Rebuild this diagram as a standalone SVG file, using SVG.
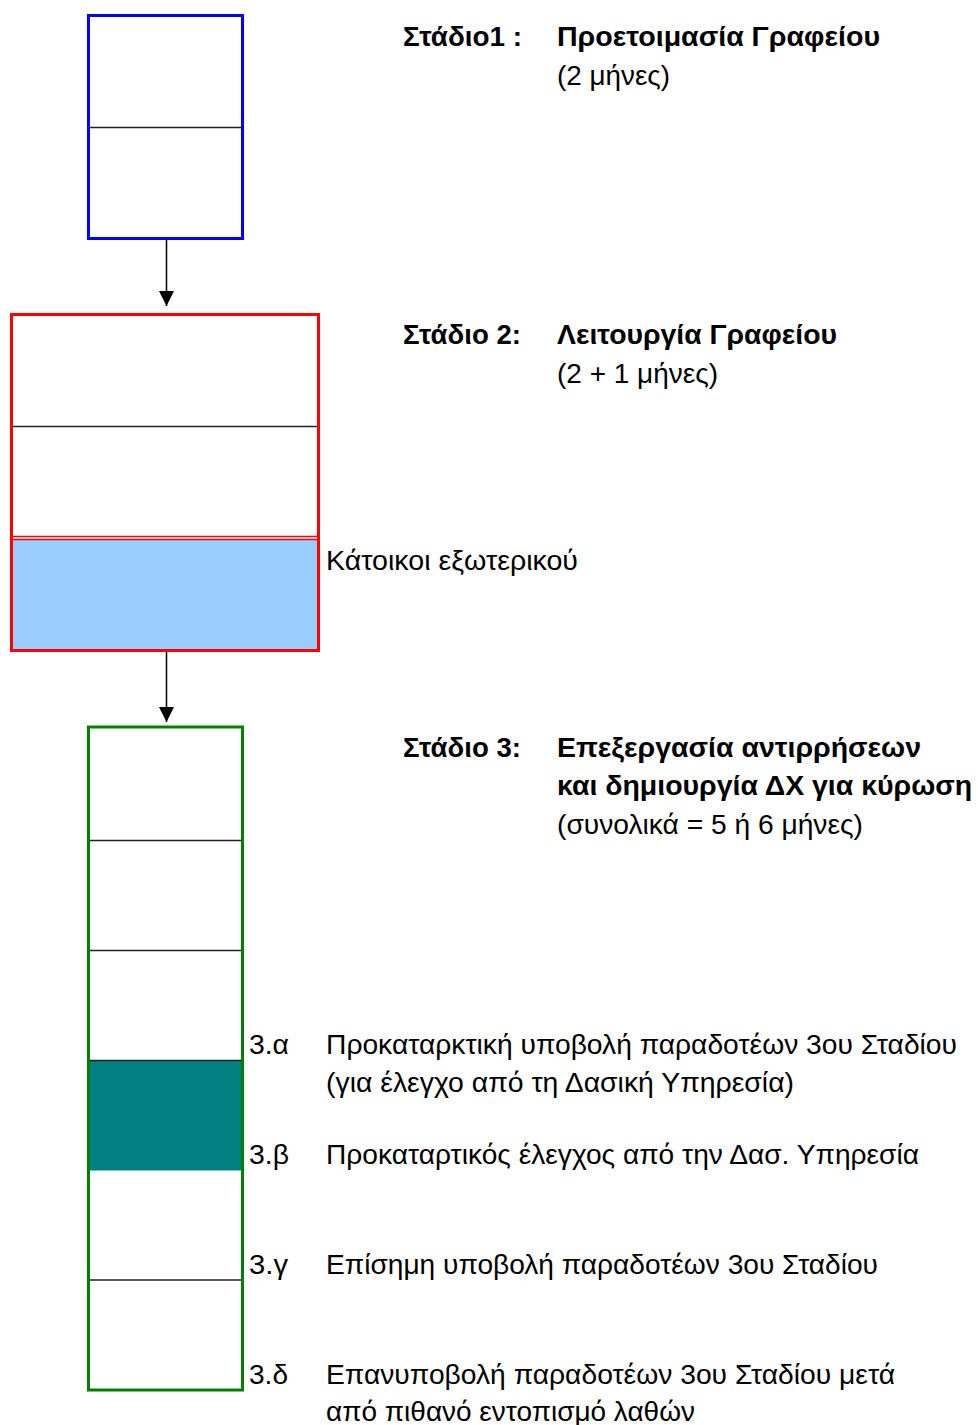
<svg xmlns="http://www.w3.org/2000/svg" width="978" height="1425" viewBox="0 0 978 1425">
  <style>
    text { font-family: "Liberation Sans", Arial, sans-serif; font-size: 28px; fill: #000; }
    .b { font-weight: bold; font-size: 27px; }
    .frame { fill: none; stroke-width: 3; }
    .div { stroke: #222; stroke-width: 1.5; }
    .conn { stroke: #000; stroke-width: 1.5; fill: none; }
  </style>
  <defs>
    <marker id="arrow" markerWidth="16" markerHeight="16" refX="15" refY="7.5" orient="auto" markerUnits="userSpaceOnUse">
      <path d="M0,0 L15,7.5 L0,15 Z" fill="#000"/>
    </marker>
  </defs>

  <!-- Stage 1 block -->
  <g id="stage1">
    <rect x="88.5" y="15.5" width="154" height="223" fill="#fff"/>
    <line class="div" x1="90" y1="127.5" x2="241" y2="127.5"/>
    <rect class="frame" x="88.5" y="15.5" width="154" height="223" stroke="#0000FF"/>
  </g>

  <!-- Stage 2 block -->
  <g id="stage2">
    <rect x="11.5" y="314.5" width="307" height="336" fill="#fff"/>
    <rect x="13" y="540" width="304" height="109" fill="#99CCFF"/>
    <line class="div" x1="13" y1="426.5" x2="317" y2="426.5"/>
    <line x1="13" y1="536.5" x2="317" y2="536.5" stroke="#FF0000" stroke-width="1.5"/>
    <line x1="13" y1="539.5" x2="317" y2="539.5" stroke="#FF0000" stroke-width="1.5"/>
    <rect class="frame" x="11.5" y="314.5" width="307" height="336" stroke="#FF0000"/>
  </g>

  <!-- Stage 3 block -->
  <g id="stage3">
    <rect x="88.5" y="727" width="154" height="663" fill="#fff"/>
    <rect x="90" y="1060.5" width="151" height="110" fill="#008080"/>
    <line class="div" x1="90" y1="840.5" x2="241" y2="840.5"/>
    <line class="div" x1="90" y1="950.5" x2="241" y2="950.5"/>
    <line class="div" x1="90" y1="1060.5" x2="241" y2="1060.5"/>
    <line class="div" x1="90" y1="1280" x2="241" y2="1280"/>
    <rect class="frame" x="88.5" y="727" width="154" height="663" stroke="#008000"/>
  </g>

  <!-- Connectors -->
  <g id="connectors">
    <line class="conn" x1="166.5" y1="240" x2="166.5" y2="306" marker-end="url(#arrow)"/>
    <line class="conn" x1="166.5" y1="652" x2="166.5" y2="722" marker-end="url(#arrow)"/>
  </g>

  <!-- Stage titles -->
  <g id="title1">
    <text class="b" x="403" y="46" textLength="119" lengthAdjust="spacingAndGlyphs">Στάδιο1 :</text>
    <text class="b" x="557" y="46" textLength="323" lengthAdjust="spacingAndGlyphs">Προετοιμασία Γραφείου</text>
    <text x="557" y="85" textLength="113" lengthAdjust="spacingAndGlyphs">(2 μήνες)</text>
  </g>
  <g id="title2">
    <text class="b" x="403" y="344" textLength="118" lengthAdjust="spacingAndGlyphs">Στάδιο 2:</text>
    <text class="b" x="557" y="344" textLength="280" lengthAdjust="spacingAndGlyphs">Λειτουργία Γραφείου</text>
    <text x="557" y="383" textLength="161" lengthAdjust="spacingAndGlyphs">(2 + 1 μήνες)</text>
  </g>
  <g id="label-abroad">
    <text x="326" y="570" textLength="252" lengthAdjust="spacingAndGlyphs">Κάτοικοι εξωτερικού</text>
  </g>
  <g id="title3">
    <text class="b" x="403" y="757" textLength="118" lengthAdjust="spacingAndGlyphs">Στάδιο 3:</text>
    <text class="b" x="557" y="757" textLength="364" lengthAdjust="spacingAndGlyphs">Επεξεργασία αντιρρήσεων</text>
    <text class="b" x="557" y="795" textLength="415" lengthAdjust="spacingAndGlyphs">και δημιουργία ΔΧ για κύρωση</text>
    <text x="557" y="834" textLength="306" lengthAdjust="spacingAndGlyphs">(συνολικά = 5 ή 6 μήνες)</text>
  </g>

  <!-- Stage 3 sub-steps -->
  <g id="step3a">
    <text x="249" y="1054" textLength="40" lengthAdjust="spacingAndGlyphs">3.α</text>
    <text x="326" y="1054" textLength="631" lengthAdjust="spacingAndGlyphs">Προκαταρκτική υποβολή παραδοτέων 3ου Σταδίου</text>
    <text x="326" y="1092" textLength="468" lengthAdjust="spacingAndGlyphs">(για έλεγχο από τη Δασική Υπηρεσία)</text>
  </g>
  <g id="step3b">
    <text x="249" y="1164" textLength="40" lengthAdjust="spacingAndGlyphs">3.β</text>
    <text x="326" y="1164" textLength="593" lengthAdjust="spacingAndGlyphs">Προκαταρτικός έλεγχος από την Δασ. Υπηρεσία</text>
  </g>
  <g id="step3c">
    <text x="249" y="1274" textLength="39" lengthAdjust="spacingAndGlyphs">3.γ</text>
    <text x="326" y="1274" textLength="552" lengthAdjust="spacingAndGlyphs">Επίσημη υποβολή παραδοτέων 3ου Σταδίου</text>
  </g>
  <g id="step3d">
    <text x="249" y="1384" textLength="39" lengthAdjust="spacingAndGlyphs">3.δ</text>
    <text x="326" y="1384" textLength="569" lengthAdjust="spacingAndGlyphs">Επανυποβολή παραδοτέων 3ου Σταδίου μετά</text>
    <text x="326" y="1421" textLength="369" lengthAdjust="spacingAndGlyphs">από πιθανό εντοπισμό λαθών</text>
  </g>
</svg>
